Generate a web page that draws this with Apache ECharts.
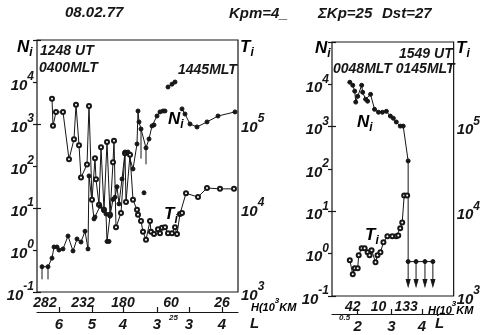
<!DOCTYPE html>
<html lang="en">
<head>
<meta charset="utf-8">
<title>Ni, Ti 08.02.77</title>
<script src="https://cdn.jsdelivr.net/npm/echarts@6/dist/echarts.min.js"></script>
<style>html,body{margin:0;background:#fff}#main{width:483px;height:335px}</style>
</head>
<body>
<div id="main"></div>
<script>
// left pass, 1248 UT  (x = position along the track, arbitrary units)
var niLx = [5,11,15,17,20,22,26,31,36,40,44,48,51,52,57,58,63,67,69,70,72,73,76,78,80,82,85,88,91,96,100,101,102,104,109,112,115,117,120,123,126,128,129,131,135,138,141,145,148,153,160,170,181,198];
var niL  = [0.4,0.4,0.64,1.18,1.18,1.0,1.06,2.15,0.95,1.83,1.55,2.8,1.06,58,5.5,6.1,11,8.5,7.2,1.6,1.6,6.4,16,18,32,12.5,49,215,215,85,335,2040,1120,760,270,440,900,950,1550,1940,2040,2040,null,7600,8900,10000,null,2290,1730,1000,850,1120,1550,1940];
var niLisoX = [107], niLiso = [23];
var errLx = [5,11,104,109], errLlo = [0.2,0.2,150,110];
var tiLx = [15,16,19,26,32,37,39,42,44,50,52,55,58,59,62,64,67,70,73,76,77,79,84,88,89,93,96,100,101,104,106,109,113,114,117,121,123,125,128,131,135,138,140,143,145,149,161,170,183,197];
var tiL  = [200000,95000,139000,139000,38000,66000,169000,56000,23000,33000,164000,12500,39000,22000,10900,53000,9500,61000,8300,35000,63000,5900,8700,45000,11800,43000,12500,9500,8300,7000,5200,4200,7000,5200,4900,5600,5000,5800,5900,5000,5000,5900,4900,8500,8700,15000,13500,17300,16900,16900];
var hPosL = [8,46,86,134,185], hLabL = ['282','232','180','60','26'];
var lPosL = [22,55,86,120,152,185], lLabL = ['6','5','4','3','3','4'];

// right pass, 1549 UT
var niRx = [18,21,23,24,26,30,31,34,36,39,43,47,51,55,59,62,65,69,72,77,77,85,94,102];
var niR  = [11200,9500,6900,3800,5200,9500,6500,4450,4000,5800,2570,2190,2190,2300,1780,1580,1290,1030,1030,155,0.65,0.65,0.65,0.65];
var limRx = [77,85,94,102], limR = 0.65, limRlo = 0.2;
var tiRx = [18,21,23,26,27,30,33,36,38,40,44,46,49,52,56,61,65,67,69,71,73,76];
var tiR  = [2650,1810,2130,2130,3030,3670,3670,3290,3030,3470,2510,3030,3290,4310,5080,5080,5080,5200,6300,7400,15400,15400];
var hPosR = [21,47,75], hLabR = ['42','10','133'];
var lPosR = [26,60,91], lLabR = ['2','3','4'];

var INK = '#161616';
var FF = '"Liberation Sans Narrow","Liberation Sans",sans-serif';

function zip(xs, ys) {
  return xs.map(function (x, i) { return ys[i] == null ? [x, '-'] : [x, ys[i]]; });
}
function bars(xs, hi, lo, arrow) {
  var out = [];
  xs.forEach(function (x, i) {
    var h = Array.isArray(hi) ? hi[i] : hi, l = Array.isArray(lo) ? lo[i] : lo;
    out.push({ value: [x, h], symbol: 'none' });
    out.push(arrow ? { value: [x, l], symbol: 'triangle', symbolRotate: 180, symbolSize: [4, 7] } : { value: [x, l], symbol: 'none' });
    out.push([x, '-']);
  });
  return out;
}
function lookup(xs, ys, x) { return ys[xs.indexOf(x)]; }

var txt = { fontFamily: FF, fontStyle: 'italic', fontWeight: 'bold', color: INK };
var pow = {
  b: Object.assign({ fontSize: 15, lineHeight: 22, verticalAlign: 'bottom' }, txt),
  e: Object.assign({ fontSize: 12, lineHeight: 22, verticalAlign: 'top' }, txt)
};
function powLabel(hideExp) {
  return function (v) {
    var e = Math.round(Math.log10(v));
    if (e === hideExp) return '';
    return '{b|10}{e|' + e + '}';
  };
}

function hAxis(grid, max, pos, labs) {
  return {
    gridIndex: grid, type: 'value', min: 0, max: max, position: 'bottom',
    axisLine: { show: false }, axisTick: { show: false }, splitLine: { show: false },
    axisLabel: Object.assign({ customValues: pos, margin: 4, fontSize: 14,
      formatter: function (v) { return labs[pos.indexOf(v)]; } }, txt)
  };
}
function lAxis(grid, max, pos, labs, off) {
  return {
    gridIndex: grid, type: 'value', min: 0, max: max, position: 'bottom', offset: off,
    axisLine: { show: true, lineStyle: { color: INK, width: 1.2 } },
    axisTick: { show: true, inside: true, length: 5, customValues: pos, lineStyle: { color: INK, width: 1.2 } },
    splitLine: { show: false },
    axisLabel: Object.assign({ customValues: pos, margin: 5, fontSize: 15,
      formatter: function (v) { return labs[pos.indexOf(v)]; } }, txt)
  };
}
function yAxis(grid, side, min, max, hideExp) {
  return {
    gridIndex: grid, type: 'log', logBase: 10, min: min, max: max, position: side,
    axisLine: { show: false }, splitLine: { show: false },
    axisTick: { show: true, length: 4, lineStyle: { color: INK, width: 1.2 } },
    axisLabel: { formatter: powLabel(hideExp), rich: pow, margin: 3 }
  };
}

function lineSeries(xi, yi, data, filled) {
  return {
    type: 'line', xAxisIndex: xi, yAxisIndex: yi, data: data,
    symbol: filled ? 'circle' : 'emptyCircle', symbolSize: 4,
    lineStyle: { color: INK, width: 1 },
    itemStyle: { color: INK, borderColor: INK, borderWidth: 1 },
    connectNulls: false, silent: true
  };
}

function T(x, y, text, size) {
  return { type: 'text', x: x, y: y, silent: true,
    style: { text: text, fill: INK, font: 'italic bold ' + (size || 15) + 'px ' + FF } };
}
function sub(x, y, a, b) {
  return { type: 'text', x: x, y: y, silent: true,
    style: { text: '{a|' + a + '}{s|' + b + '}', rich: {
      a: Object.assign({ fontSize: 17, lineHeight: 20, verticalAlign: 'top' }, txt),
      s: Object.assign({ fontSize: 12, lineHeight: 20, verticalAlign: 'bottom' }, txt) } } };
}
function hName(x, y) {
  return { type: 'text', x: x, y: y, silent: true,
    style: { text: '{a|H(10}{e|3}{a|KM}', rich: {
      a: Object.assign({ fontSize: 11, lineHeight: 16, verticalAlign: 'bottom' }, txt),
      e: Object.assign({ fontSize: 8, lineHeight: 16, verticalAlign: 'top' }, txt) } } };
}

var chart = echarts.init(document.getElementById('main'), null, { renderer: 'canvas' });
chart.setOption({
  animation: false,
  backgroundColor: '#fff',
  grid: [
    { left: 37, top: 40, width: 201, height: 252, show: true, borderColor: INK, borderWidth: 1.2, containLabel: false },
    { left: 332, top: 42, width: 123, height: 254, show: true, borderColor: INK, borderWidth: 1.2, containLabel: false }
  ],
  xAxis: [
    hAxis(0, 201, hPosL, hLabL), lAxis(0, 201, lPosL, lLabL, 20),
    hAxis(1, 123, hPosR, hLabR), lAxis(1, 123, lPosR, lLabR, 18)
  ],
  yAxis: [
    yAxis(0, 'left', 0.1, 1e5, 5), yAxis(0, 'right', 1e3, 1e6, 6),
    yAxis(1, 'left', 0.1, 1e5, 5), yAxis(1, 'right', 1e3, 1e6, 6)
  ],
  series: [
    lineSeries(0, 1, zip(tiLx, tiL), false),
    lineSeries(0, 0, zip(niLx, niL), true),
    lineSeries(0, 0, zip(niLisoX, niLiso), true),
    Object.assign(lineSeries(0, 0, bars(errLx, errLx.map(function (x) { return lookup(niLx, niL, x); }), errLlo, false), true), { symbol: 'none' }),
    lineSeries(2, 3, zip(tiRx, tiR), false),
    lineSeries(2, 2, zip(niRx, niR), true),
    lineSeries(2, 2, bars(limRx, limR, limRlo, true), true)
  ],
  graphic: [
    T(65, 5, '08.02.77'),
    T(229, 6, 'Kpm=4_'),
    T(318, 6, '\u03a3Kp=25'),
    T(382, 6, 'Dst=27'),
    sub(17, 39, 'N', 'i'),
    sub(240, 39, 'T', 'i'),
    sub(315, 40, 'N', 'i'),
    sub(456, 40, 'T', 'i'),
    T(40, 44, '1248 UT', 14),
    T(39, 61, '0400MLT', 14),
    T(178, 63, '1445MLT', 14),
    T(399, 47, '1549 UT', 14),
    T(333, 62, '0048MLT 0145MLT', 14),
    sub(168, 111, 'N', 'i'),
    sub(164, 206, 'T', 'i'),
    sub(357, 114, 'N', 'i'),
    sub(365, 227, 'T', 'i'),
    hName(251, 297),
    hName(428, 300),
    T(250, 316, 'L', 15),
    T(435, 316, 'L', 15),
    T(169, 314, '25', 8),
    T(339, 314, '0.5', 8)
  ]
});
</script>
</body>
</html>
